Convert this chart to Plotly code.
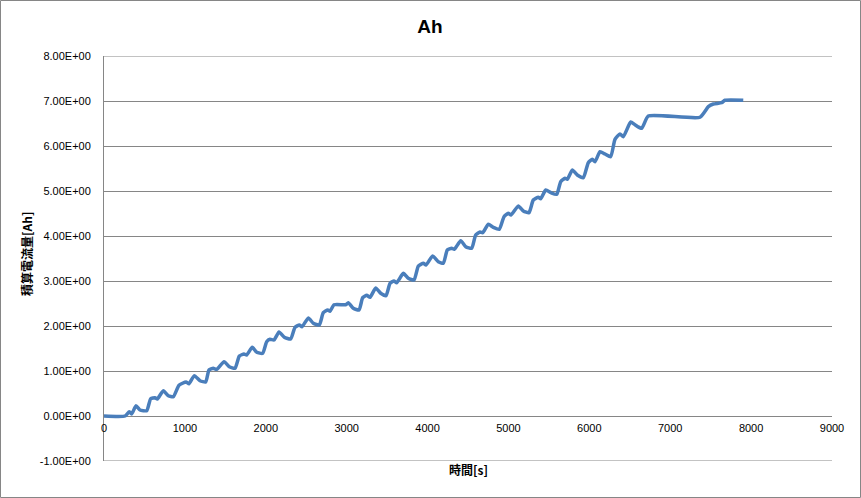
import plotly.graph_objects as go

time_s = [0, 260, 313, 342, 396, 445, 528, 577, 630, 659, 733, 795, 857, 927, 1014, 1051,
          1116, 1187, 1257, 1298, 1351, 1393, 1484, 1549, 1620, 1673, 1731, 1764, 1833, 1888,
          1962, 2011, 2052, 2102, 2164, 2229, 2308, 2361, 2415, 2448, 2526, 2588, 2662, 2711,
          2766, 2794, 2844, 2992, 3020, 3082, 3153, 3198, 3248, 3289, 3359, 3421, 3486, 3536,
          3585, 3619, 3700, 3762, 3833, 3886, 3948, 3981, 4063, 4133, 4195, 4244, 4298, 4331,
          4410, 4472, 4546, 4595, 4649, 4682, 4751, 4813, 4887, 4945, 4998, 5032, 5122, 5184,
          5254, 5307, 5369, 5399, 5461, 5526, 5597, 5646, 5699, 5728, 5790, 5851, 5926, 5987,
          6037, 6070, 6132, 6194, 6264, 6317, 6379, 6420, 6511, 6564, 6647, 6729, 7368, 7471,
          7533, 7636, 7677, 7903]
charge_ah = [0, 0, 0.096, 0.044, 0.229, 0.133, 0.118, 0.384, 0.407, 0.378, 0.562, 0.451, 0.429,
             0.682, 0.756, 0.718, 0.896, 0.784, 0.756, 1.022, 1.06, 1.038, 1.207, 1.096, 1.06,
             1.333, 1.378, 1.356, 1.527, 1.416, 1.393, 1.651, 1.704, 1.689, 1.867, 1.749, 1.711,
             1.971, 2.022, 1.984, 2.178, 2.060, 2.022, 2.296, 2.356, 2.327, 2.473, 2.473, 2.518,
             2.393, 2.356, 2.629, 2.682, 2.638, 2.844, 2.727, 2.673, 2.949, 3.0, 2.962, 3.171,
             3.060, 3.022, 3.333, 3.393, 3.356, 3.556, 3.429, 3.393, 3.689, 3.727, 3.704, 3.896,
             3.762, 3.727, 4.022, 4.089, 4.073, 4.260, 4.193, 4.149, 4.429, 4.504, 4.467, 4.667,
             4.556, 4.518, 4.8, 4.860, 4.829, 5.022, 4.962, 4.927, 5.207, 5.282, 5.260, 5.467,
             5.356, 5.296, 5.629, 5.704, 5.651, 5.873, 5.822, 5.762, 6.149, 6.267, 6.207, 6.533,
             6.473, 6.393, 6.667, 6.638, 6.873, 6.933, 6.962, 7.016, 7.016]

y_tick_vals = [-1, 0, 1, 2, 3, 4, 5, 6, 7, 8]
y_tick_text = ["-1.00E+00", "0.00E+00", "1.00E+00", "2.00E+00", "3.00E+00", "4.00E+00",
               "5.00E+00", "6.00E+00", "7.00E+00", "8.00E+00"]
x_tick_vals = [0, 1000, 2000, 3000, 4000, 5000, 6000, 7000, 8000, 9000]

title_text = "Ah"
x_title = "時間[s]"
y_title = "積算電流量[Ah]"

W, H = 861, 498
L, R, T, B = 104, 29, 56, 37
PW, PH = W - L - R, H - T - B
GRID = "rgb(134,134,134)"
TICKFONT = dict(family="Liberation Sans, Arial, sans-serif", size=11, color="black")
CJK = "Noto Sans CJK JP, Liberation Sans, sans-serif"

fig = go.Figure()
fig.add_trace(go.Scatter(
    x=time_s, y=charge_ah, mode="lines",
    line=dict(color="rgb(74,126,187)", width=3.5, shape="spline", smoothing=0.5),
    showlegend=False, hoverinfo="x+y"))

edge_lines = [dict(type="line", xref="paper", yref="y", x0=0, x1=1, y0=v, y1=v,
                   line=dict(color=GRID, width=1), layer="below")
              for v in (y_tick_vals[0], y_tick_vals[-1])]

fig.update_layout(
    width=W, height=H,
    margin=dict(l=L, r=R, t=T, b=B, autoexpand=False),
    paper_bgcolor="white", plot_bgcolor="white",
    title=dict(text="<b>" + title_text + "</b>", x=430 / W, xanchor="center",
               y=1 - 26 / H, yanchor="middle", xref="container", yref="container",
               font=dict(family="Liberation Sans, Arial, sans-serif", size=19, color="black")),
    xaxis=dict(range=[0, 9000], tickvals=x_tick_vals, showgrid=False, zeroline=False,
               showline=False, ticks="", anchor="free", position=1 / 9,
               tickfont=TICKFONT, ticklabelstandoff=4),
    yaxis=dict(range=[-1, 8], tickvals=y_tick_vals, ticktext=y_tick_text,
               showgrid=True, gridcolor=GRID, gridwidth=1, zeroline=False,
               showline=True, linecolor=GRID, linewidth=1, ticks="",
               tickfont=TICKFONT, ticklabelstandoff=10),
    annotations=[
        dict(text="<b>" + x_title + "</b>", x=(468 - L) / PW, y=(H - B - 470) / PH,
             xref="paper", yref="paper", xanchor="center", yanchor="middle",
             showarrow=False, font=dict(family=CJK, size=12, color="black")),
        dict(text="<b>" + y_title + "</b>", x=(26 - L) / PW, y=(H - B - 254) / PH,
             xref="paper", yref="paper", xanchor="center", yanchor="middle",
             textangle=-90, showarrow=False, font=dict(family=CJK, size=12, color="black")),
    ],
    shapes=[dict(type="rect", xref="paper", yref="paper",
                 x0=(0.5 - L) / PW, x1=(W - 0.5 - L) / PW,
                 y0=(H - B - (H - 0.5)) / PH, y1=(H - B - 0.5) / PH,
                 line=dict(color=GRID, width=1), fillcolor="rgba(0,0,0,0)", layer="below")]
           + edge_lines,
)

fig.write_html("out.html", config={"displayModeBar": False},
               post_script="document.body.style.margin='0';document.body.style.padding='0';")
